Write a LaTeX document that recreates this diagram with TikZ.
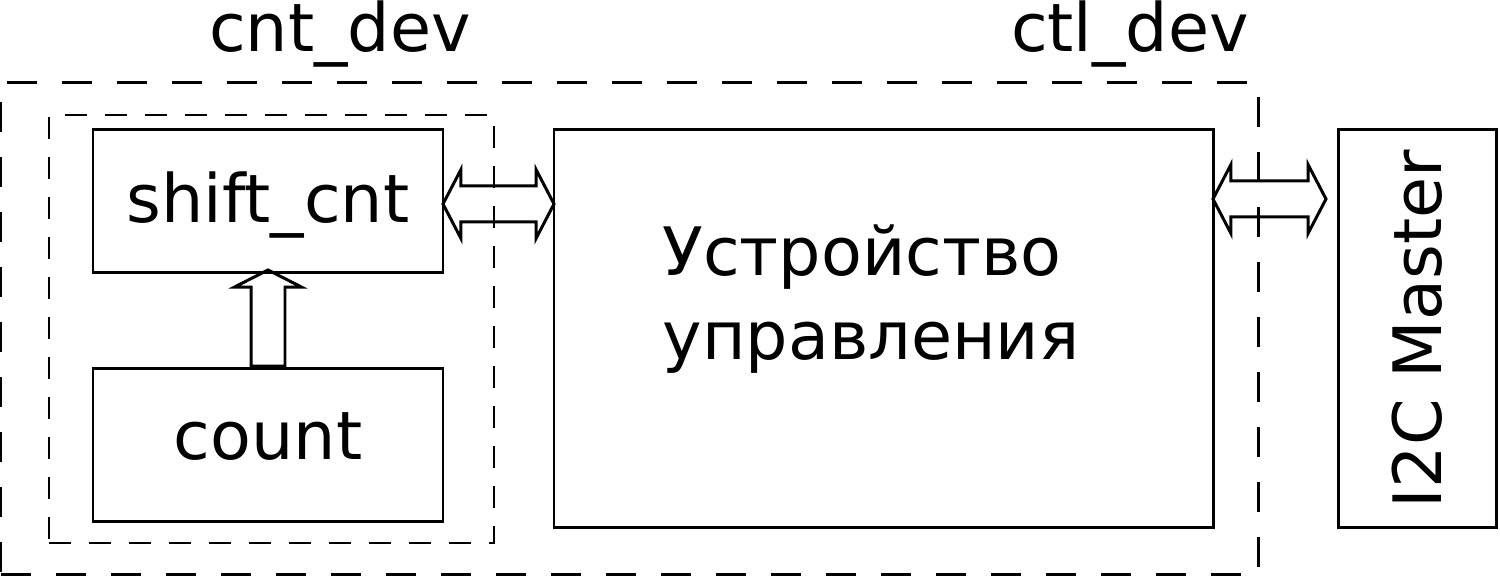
\documentclass[tikz,border=0pt]{standalone}
\usepackage{fontspec}
\setmainfont{DejaVu Sans}
\usetikzlibrary{positioning,calc,shapes.arrows}

\begin{document}
\begin{tikzpicture}[
  font=\fontsize{19}{24}\selectfont,
  box/.style={draw, rectangle, line width=0.85pt, inner sep=0pt},
  txtbox/.style={box, text height=0.91em, text depth=0.09em},
  outergroup/.style={draw, rectangle, line width=0.85pt, dash pattern=on 0.3cm off 0.25cm, inner sep=0pt},
  innergroup/.style={draw, rectangle, line width=0.55pt, dash pattern=on 0.22cm off 0.18cm, inner sep=0pt},
  dblarrow/.style={draw, double arrow, line width=0.85pt, inner xsep=0pt, inner ysep=0.165cm, double arrow head extend=0.165cm, double arrow head indent=0pt, double arrow tip angle=125},
  uparrow/.style={draw, single arrow, rotate=90, line width=0.85pt, inner xsep=0pt, inner ysep=0.155cm, single arrow head extend=0.165cm, single arrow head indent=0pt, single arrow tip angle=126}
]
\useasboundingbox (0,0) rectangle (15,5.78);

% groups
\node[outergroup, minimum width=12.57cm, minimum height=4.92cm] (ctldev) at (6.295, 2.49) {};
\node[innergroup, minimum width=4.45cm, minimum height=4.28cm] (cntdev) at (2.715, 2.49) {};
\node[anchor=base] (cntlbl) at (3.40, 5.26) {cnt\_dev};
\node[anchor=base] (ctllbl) at (11.30, 5.26) {ctl\_dev};

% blocks
\node[txtbox, text height=1.27em, minimum width=3.50cm, minimum height=1.43cm] (shift) at (2.68, 3.765) {shift\_cnt};
\node[txtbox, minimum width=3.50cm, minimum height=1.53cm] (count) at (2.68, 1.325) {count};
\node[box, minimum width=6.59cm, minimum height=3.98cm] (ctl) at (8.835, 2.49) {};
\node[align=left, inner sep=0pt] (ctltxt) at (8.71, 2.79) {Устройство\\управления};
\node[box, rotate=90, minimum width=3.98cm, minimum height=1.58cm] (i2c) at (14.17, 2.49) {I2C Master};

% links
\node[dblarrow, minimum height=1.11cm] (link1) at ($(shift.east)!0.5!(shift.east -| ctl.west)+(0,-0.025)$) {};
\node[dblarrow, minimum height=1.13cm] (link2) at (12.695, 3.79) {};
\node[uparrow, minimum height=0.96cm, anchor=tail] (link3) at (count.north) {};

\end{tikzpicture}
\end{document}
